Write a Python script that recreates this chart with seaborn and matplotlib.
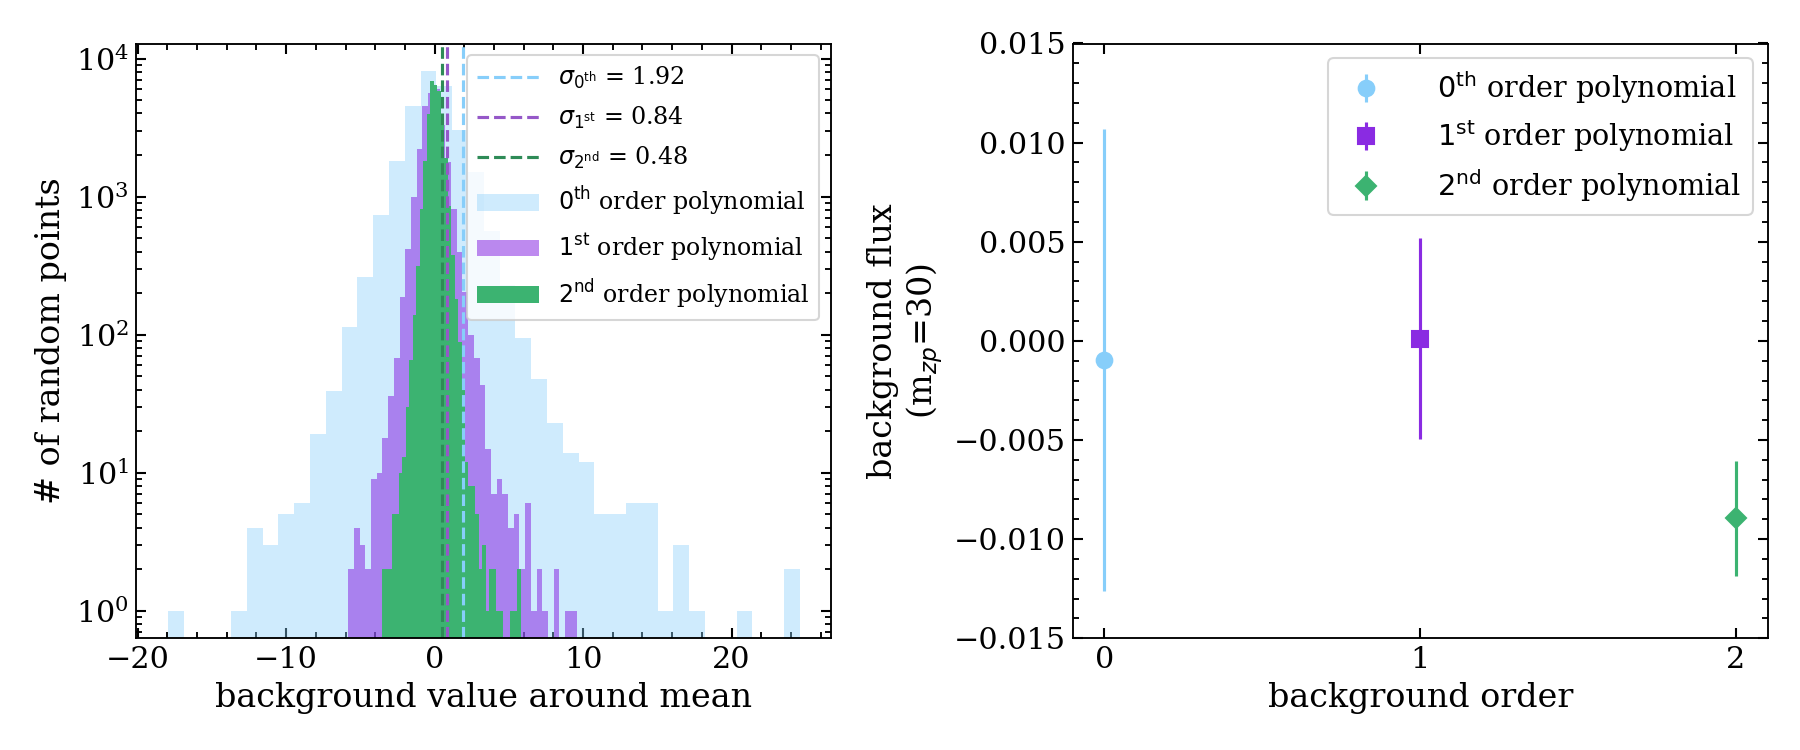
import numpy as np
import pandas as pd
import matplotlib
matplotlib.use("Agg")
import matplotlib.pyplot as plt
import seaborn as sns

# ---------------- data ----------------
# histogram 0th order: 40 bins between these limits
blue_range = (-17.98, 24.60)
blue_counts = [1, 0, 0, 0, 1, 4, 3, 5, 6, 19,
               39, 113, 263, 740, 1810, 4520, 8130, 6350, 3050, 1500,
               560, 230, 94, 48, 23, 14, 12, 5, 5, 6,
               6, 1, 3, 1, 0, 0, 1, 0, 0, 2]
# histogram 1st order
purple_range = (-5.82, 9.56)
purple_counts = [2, 4, 3, 2, 9, 10, 18, 36, 68, 187,
                 419, 990, 2220, 4500, 5600, 6000, 3300, 1774, 816, 396,
                 203, 99, 68, 43, 15, 7, 9, 7, 4, 5,
                 2, 6, 1, 2, 1, 0, 2, 0, 1, 1]
# histogram 2nd order
green_range = (-3.57, 5.79)
green_counts = [2, 2, 2, 5, 5, 10, 13, 30, 66, 138,
                313, 816, 1824, 3980, 6840, 6440, 5860, 3700, 1900, 850,
                375, 180, 88, 40, 12, 8, 8, 5, 2, 3,
                1, 2, 2, 1, 1, 0, 0, 1, 1, 2]
n_bins = 40
sigmas = [1.92, 0.84, 0.48]
sigma_labels = [r"$\sigma_{0^{\rm th}}$ = 1.92", r"$\sigma_{1^{\rm st}}$ = 0.84",
                r"$\sigma_{2^{\rm nd}}$ = 0.48"]
hist_labels = [r"$0^{\rm th}$ order polynomial", r"$1^{\rm st}$ order polynomial",
               r"$2^{\rm nd}$ order polynomial"]

orders = [0, 1, 2]
flux = [-0.00097, 0.0001, -0.00894]
flux_err = [0.01165, 0.00507, 0.0029]

# ---------------- style ----------------
sns.set_theme(style="ticks")
plt.rcParams.update({
    "font.family": "serif",
    "font.serif": ["DejaVu Serif"],
    "mathtext.fontset": "dejavusans",
    "text.color": "black", "axes.labelcolor": "black",
    "axes.edgecolor": "black", "xtick.color": "black", "ytick.color": "black",
    "axes.linewidth": 0.9,
    "xtick.direction": "in", "ytick.direction": "in",
    "xtick.top": True, "ytick.right": True,
    "xtick.major.size": 5, "ytick.major.size": 5,
    "xtick.minor.size": 3, "ytick.minor.size": 3,
    "xtick.major.width": 1.0, "ytick.major.width": 1.0,
    "xtick.minor.width": 0.9, "ytick.minor.width": 0.9,
    "xtick.labelsize": 14.5, "ytick.labelsize": 14.5,
    "axes.labelsize": 16,
})

c_blue = "#87CEFA"
c_purple = "#8A2BE2"
c_green = "#3CB371"
line_cols = ["#87CEFA", "#9558c8", "#2E8B57"]

fig = plt.figure(figsize=(12, 5), dpi=150)
ax1 = fig.add_axes([0.0756, 0.149, 0.386, 0.793])
ax2 = fig.add_axes([0.596, 0.149, 0.386, 0.793])

def make_df(rng, counts):
    edges = np.linspace(rng[0], rng[1], len(counts) + 1)
    centers = 0.5 * (edges[:-1] + edges[1:])
    return pd.DataFrame({"x": centers, "w": np.asarray(counts, float)})

for s, lab, lc in zip(sigmas, sigma_labels, line_cols):
    ax1.axvline(s, color=lc, ls="--", lw=1.5, label=lab)
specs = [(blue_range, blue_counts, c_blue, 0.4),
         (purple_range, purple_counts, c_purple, 0.55),
         (green_range, green_counts, c_green, 1.0)]
for (rng, cnt, col, a), lab in zip(specs, hist_labels):
    df = make_df(rng, cnt)
    sns.histplot(data=df, x="x", weights="w", bins=n_bins, binrange=rng,
                 color=col, alpha=a, linewidth=0, element="bars",
                 ax=ax1, label=lab)
ax1.set_yscale("log")
ax1.set_xlim(-20.11, 26.69)
ax1.set_ylim(0.634, 12850)
ax1.set_xlabel("background value around mean")
ax1.set_ylabel("# of random points")
ax1.set_xticks([-20, -10, 0, 10, 20])
ax1.xaxis.set_minor_locator(matplotlib.ticker.MultipleLocator(2))
ax1.yaxis.set_minor_locator(matplotlib.ticker.LogLocator(base=10, subs=np.arange(2, 10)))
ax1.yaxis.set_minor_formatter(matplotlib.ticker.NullFormatter())
h, l = ax1.get_legend_handles_labels()
ax1.legend(h, l, loc="upper right", fontsize=11.4, framealpha=0.8,
           handlelength=2.6, handletextpad=0.8, labelspacing=0.58)

markers = ["o", "s", "D"]
cols = [c_blue, c_purple, c_green]
for o, f, e, m, c, lab in zip(orders, flux, flux_err, markers, cols, hist_labels):
    ax2.errorbar(o, f, yerr=e, fmt=m, color=c, ms=7.5 if m != "D" else 7,
                 elinewidth=1.5, capsize=0, label=lab)
ax2.set_xlim(-0.1, 2.1)
ax2.set_ylim(-0.015, 0.015)
ax2.set_xticks([0, 1, 2])
ax2.yaxis.set_major_locator(matplotlib.ticker.MultipleLocator(0.005))
ax2.yaxis.set_minor_locator(matplotlib.ticker.MultipleLocator(0.001))
ax2.xaxis.set_minor_locator(matplotlib.ticker.NullLocator())
ax2.set_xlabel("background order")
ax2.set_ylabel("background flux\n(m$_{zp}$=30)")
ax2.legend(loc="upper right", fontsize=13.8, framealpha=0.8,
           handlelength=1.8, handletextpad=1.6, labelspacing=0.45)

fig.savefig("out.png", dpi=150)
